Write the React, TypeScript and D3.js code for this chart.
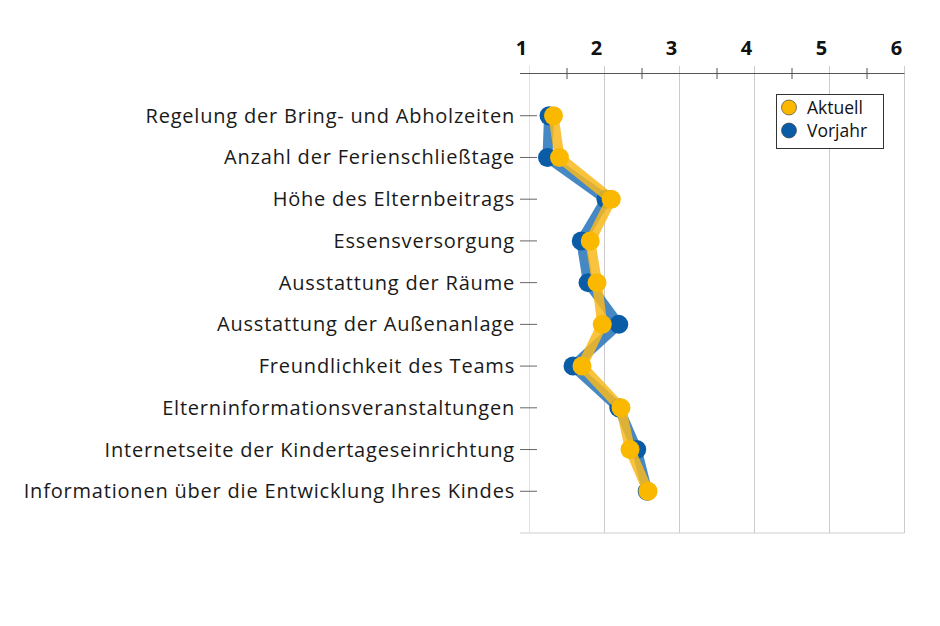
import React from "react";
import * as d3 from "d3";

const categories = [
  "Regelung der Bring- und Abholzeiten",
  "Anzahl der Ferienschließtage",
  "Höhe des Elternbeitrags",
  "Essensversorgung",
  "Ausstattung der Räume",
  "Ausstattung der Außenanlage",
  "Freundlichkeit des Teams",
  "Elterninformationsveranstaltungen",
  "Internetseite der Kindertageseinrichtung",
  "Informationen über die Entwicklung Ihres Kindes",
];
const aktuell = [1.32, 1.4, 2.09, 1.81, 1.9, 1.97, 1.7, 2.22, 2.34, 2.58];
const vorjahr = [1.26, 1.24, 2.02, 1.69, 1.78, 2.19, 1.58, 2.19, 2.43, 2.57];
const majorTicks = [1, 2, 3, 4, 5, 6];
const minorTicks = [1.5, 2.5, 3.5, 4.5, 5.5];
const seriesNames = ["Aktuell", "Vorjahr"];

const W = 940;
const H = 626;
const LEFT = 529.5;
const RIGHT = 904.5;
const TOP = 74;
const BOTTOM = 533;

export default function App() {
  const x = d3.scaleLinear().domain([1, 6]).range([LEFT, RIGHT]);
  const y = d3.scalePoint<string>().domain(categories).range([TOP, BOTTOM]).padding(1);
  const line = d3
    .line<number>()
    .x((d) => x(d))
    .y((_, i) => y(categories[i]) as number);

  const series = [
    { name: seriesNames[1], values: vorjahr, line: "#2473ba", dot: "#0a5ca6" },
    { name: seriesNames[0], values: aktuell, line: "#f8b81c", dot: "#fbb800" },
  ];

  return (
    <svg width={W} height={H} style={{ display: "block", margin: "-8px" }}>
      <rect width={W} height={H} fill="#fff" />
      {majorTicks.map((t) => (
        <line
          key={"g" + t}
          x1={x(t)}
          x2={x(t)}
          y1={66}
          y2={BOTTOM}
          stroke={t === 1 ? "#e2e2e2" : "#cccccc"}
          strokeWidth={1}
        />
      ))}
      <line x1={520} x2={RIGHT} y1={BOTTOM} y2={BOTTOM} stroke="#d0d0d0" strokeWidth={1} />
      <line x1={520} x2={RIGHT} y1={73.5} y2={73.5} stroke="#555" strokeWidth={1} />
      {minorTicks.map((t) => (
        <line key={"m" + t} x1={x(t)} x2={x(t)} y1={68} y2={79} stroke="#555" strokeWidth={1} />
      ))}
      {majorTicks.map((t) => (
        <text
          key={"t" + t}
          x={x(t) - 8}
          y={55}
          textAnchor="middle"
          fontFamily="'Open Sans', sans-serif"
          fontWeight={700}
          fontSize={20}
          fill="#111"
        >
          {t}
        </text>
      ))}
      {categories.map((c) => (
        <g key={c}>
          <line x1={520} x2={537} y1={y(c)} y2={y(c)} stroke="#666" strokeWidth={1} />
          <text
            x={515}
            y={(y(c) as number) + 7}
            textAnchor="end"
            fontFamily="'Open Sans', sans-serif"
            fontWeight={400}
            fontSize={20}
            letterSpacing={0.8}
            fill="#1a1a1a"
          >
            {c}
          </text>
        </g>
      ))}
      {series.map((s) => (
        <g key={s.name}>
          <path
            d={line(s.values) || ""}
            fill="none"
            stroke={s.line}
            strokeWidth={10}
            strokeOpacity={0.85}
            strokeLinejoin="round"
          />
          {s.values.map((v, i) => (
            <circle key={i} cx={x(v)} cy={y(categories[i]) as number} r={9.5} fill={s.dot} />
          ))}
        </g>
      ))}
      <g>
        <rect x={776.5} y={94.5} width={107} height={54} fill="#fff" stroke="#333" strokeWidth={1} />
        {[
          { name: seriesNames[0], color: "#fbb800", cy: 107.5 },
          { name: seriesNames[1], color: "#0a5ca6", cy: 130.5 },
        ].map((l) => (
          <g key={l.name}>
            <circle cx={789} cy={l.cy} r={7.5} fill={l.color} stroke="#333" strokeWidth={0.6} />
            <text
              x={807}
              y={l.cy + 6}
              fontFamily="'Open Sans', sans-serif"
              fontSize={17.5}
              fill="#111"
            >
              {l.name}
            </text>
          </g>
        ))}
      </g>
    </svg>
  );
}
